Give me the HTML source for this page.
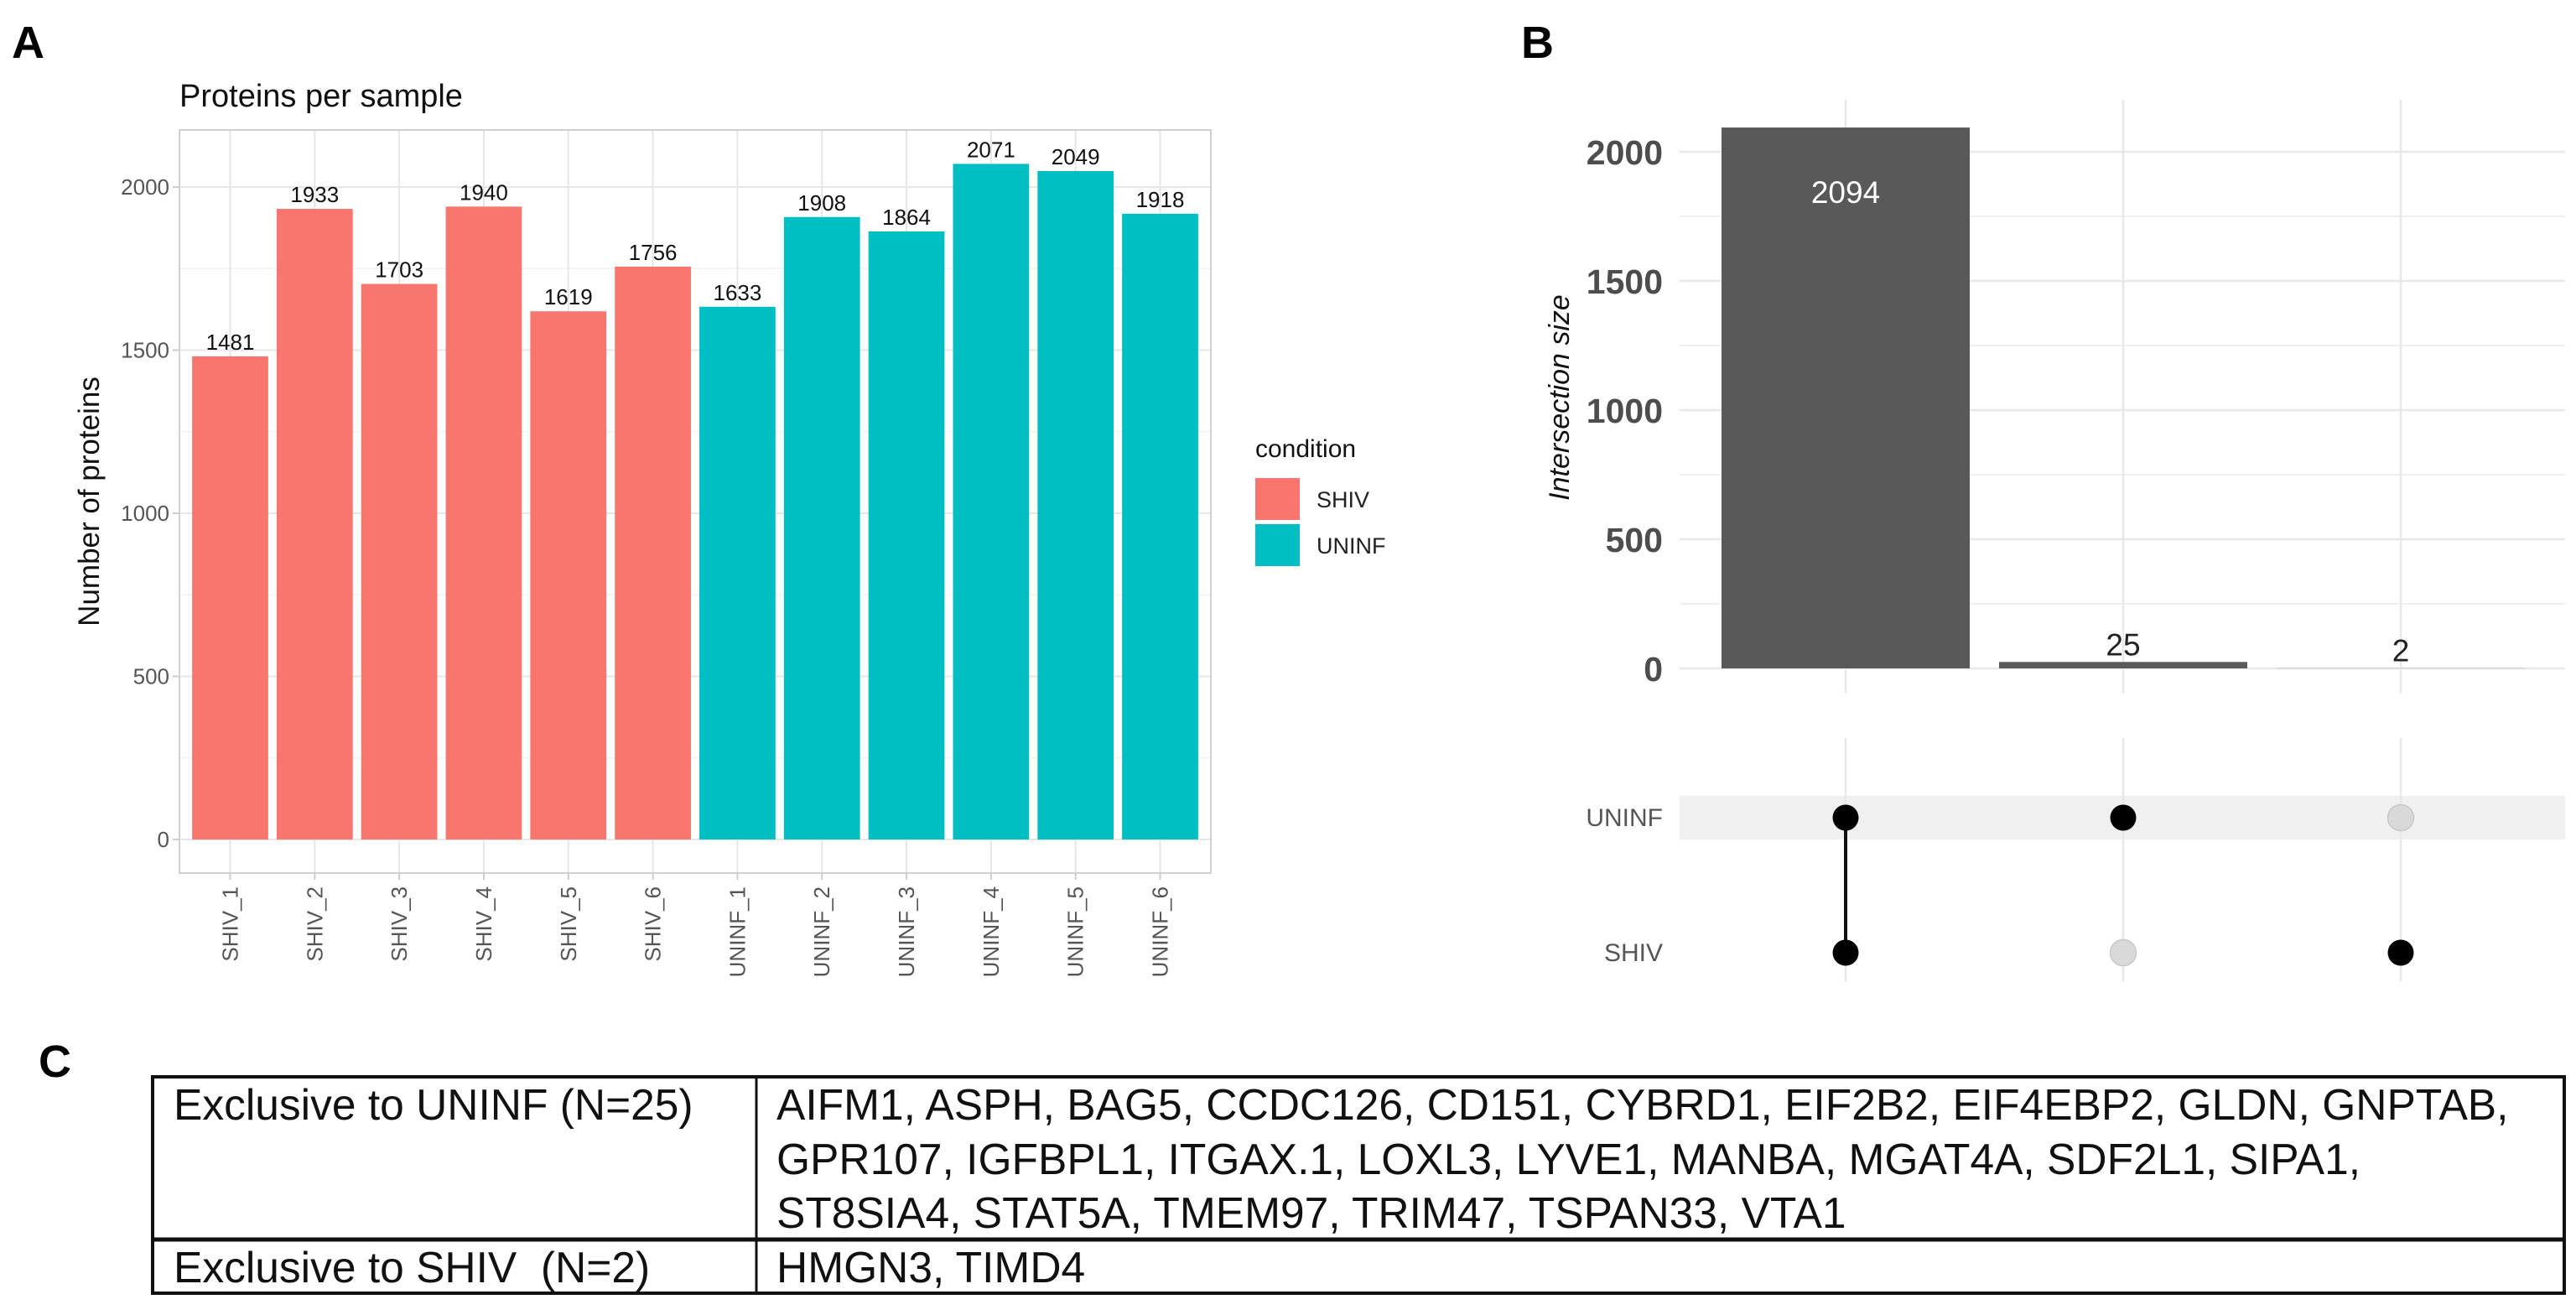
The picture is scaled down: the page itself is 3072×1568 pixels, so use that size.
<!DOCTYPE html>
<html><head><meta charset="utf-8"><style>
html,body{margin:0;padding:0;background:#fff;}
svg{display:block;font-family:"Liberation Sans",Arial,sans-serif;}
</style></head><body>
<svg id="fig" width="3072" height="1568" viewBox="0 0 3072 1568" xmlns="http://www.w3.org/2000/svg">
<rect x="0" y="0" width="3072" height="1568" fill="#fff"/>
<text x="14" y="69" font-size="54" font-weight="bold">A</text>
<text x="1814" y="69" font-size="54" font-weight="bold">B</text>
<text x="46" y="1284" font-size="54" font-weight="bold">C</text>

<g id="chartA">
<text x="214" y="127" font-size="38" fill="#111">Proteins per sample</text>
<text transform="translate(118,598) rotate(-90)" text-anchor="middle" font-size="35" fill="#111">Number of proteins</text>
<g id="a-grid"></g><g id="a-bars"></g><g id="a-labels"></g>
<rect x="214" y="155" width="1230" height="886" fill="none" stroke="#d0d0d0" stroke-width="2"/>
<g>
<text x="1497" y="545" font-size="30" fill="#111">condition</text>
<rect x="1497" y="570" width="53" height="50" fill="#F8766D"/>
<text x="1570" y="605" font-size="27" fill="#222">SHIV</text>
<rect x="1497" y="625" width="53" height="50" fill="#00BFC4"/>
<text x="1570" y="660" font-size="27" fill="#222">UNINF</text>
</g>
</g>

<g id="chartB">
<text transform="translate(1871,474) rotate(-90)" text-anchor="middle" font-size="34" font-style="italic" fill="#111">Intersection size</text>
<g id="b-grid"></g><g id="b-bars"></g><g id="b-matrix"></g>
</g>

<g>
<rect x="182" y="1284" width="2876" height="258" fill="none" stroke="#111" stroke-width="4"/>
<line x1="182" y1="1478" x2="3058" y2="1478" stroke="#111" stroke-width="5"/>
<line x1="902" y1="1284" x2="902" y2="1542" stroke="#111" stroke-width="3"/>
<g font-size="51.5" fill="#111">
<text x="207" y="1335">Exclusive to UNINF (N=25)</text>
<text x="926" y="1335">AIFM1, ASPH, BAG5, CCDC126, CD151, CYBRD1, EIF2B2, EIF4EBP2, GLDN, GNPTAB,</text>
<text x="926" y="1400">GPR107, IGFBPL1, ITGAX.1, LOXL3, LYVE1, MANBA, MGAT4A, SDF2L1, SIPA1,</text>
<text x="926" y="1464">ST8SIA4, STAT5A, TMEM97, TRIM47, TSPAN33, VTA1</text>
<text x="207" y="1529" xml:space="preserve">Exclusive to SHIV  (N=2)</text>
<text x="926" y="1529">HMGN3, TIMD4</text>
</g>
</g>
</svg>
<script>
const samples = ["SHIV_1","SHIV_2","SHIV_3","SHIV_4","SHIV_5","SHIV_6","UNINF_1","UNINF_2","UNINF_3","UNINF_4","UNINF_5","UNINF_6"];
const proteinCounts = [1481,1933,1703,1940,1619,1756,1633,1908,1864,2071,2049,1918];
const conditions = ["SHIV","SHIV","SHIV","SHIV","SHIV","SHIV","UNINF","UNINF","UNINF","UNINF","UNINF","UNINF"];
const yTicksA = [0,500,1000,1500,2000];
const intersections = ["UNINF&SHIV","UNINF","SHIV"];
const intersectionSizes = [2094,25,2];
const yTicksB = [0,500,1000,1500,2000];
const sets = ["UNINF","SHIV"];
const membership = [[1,1],[1,0],[0,1]];

const NS="http://www.w3.org/2000/svg";
function mk(tag, attrs, parent, txt){const e=document.createElementNS(NS,tag);for(const k in attrs)e.setAttribute(k,attrs[k]);if(txt!==undefined)e.textContent=txt;parent.appendChild(e);return e;}

// Panel A
const aL=214,aR=1444,aT=155,aB=1041,y0A=1001,pxPerA=(1001-223)/2000;
const yA=v=>y0A-v*pxPerA;
const step=(aR-aL)/(samples.length+0.2);
const xA=i=>aL+step*(0.6+i);
const gA=document.getElementById('a-grid'),bA=document.getElementById('a-bars'),lA=document.getElementById('a-labels');
for(let i=0;i<yTicksA.length-1;i++){const m=(yTicksA[i]+yTicksA[i+1])/2;
 const l=mk('line',{x1:aL,x2:aR,y1:yA(m),y2:yA(m),stroke:'#f3f3f3','stroke-width':1.5},gA);
 
 }
yTicksA.forEach(t=>{
 const l=mk('line',{x1:aL,x2:aR,y1:yA(t),y2:yA(t),stroke:'#e6e6e6','stroke-width':2},gA);
 
 
 const tk=mk('line',{x1:aL-8,x2:aL,y1:yA(t),y2:yA(t),stroke:'#ccc','stroke-width':2},gA);
 
 
 const tx=mk('text',{x:aL-12,y:yA(t)+9,'text-anchor':'end','font-size':26,fill:'#555'},gA,String(t));
 
 
});
samples.forEach((s,i)=>{
 const cx=xA(i);
 const g=mk('line',{x1:cx,x2:cx,y1:aT,y2:aB,stroke:'#e6e6e6','stroke-width':2},gA);
 
 
 const tk=mk('line',{x1:cx,x2:cx,y1:aB,y2:aB+8,stroke:'#ccc','stroke-width':2},gA);
 
 
 const v=proteinCounts[i],w=step*0.9;
 const r=mk('rect',{x:cx-w/2,y:yA(v),width:w,height:yA(0)-yA(v),fill:conditions[i]==='SHIV'?'#F8766D':'#00BFC4'},bA);
 
 
 const vl=mk('text',{x:cx,y:yA(v)-8,'text-anchor':'middle','font-size':26,fill:'#111'},lA,String(v));
 
 
 const xl=mk('text',{transform:`translate(${cx+9},${aB+16}) rotate(-90)`,'text-anchor':'end','font-size':26,fill:'#555'},lA,s);
 
 
});

// Panel B
const bL=2003,bR=3059,y0B=797,pxPerB=(797-181)/2000;
const yB=v=>y0B-v*pxPerB;
const xB=i=>2201+i*331;
const gB=document.getElementById('b-grid'),barsB=document.getElementById('b-bars'),mB=document.getElementById('b-matrix');
for(let i=0;i<yTicksB.length-1;i++){const m=(yTicksB[i]+yTicksB[i+1])/2;
 const l=mk('line',{x1:bL,x2:bR,y1:yB(m),y2:yB(m),stroke:'#f0f0f0','stroke-width':2},gB);
 
 }
yTicksB.forEach(t=>{
 const l=mk('line',{x1:bL,x2:bR,y1:yB(t),y2:yB(t),stroke:'#e8e8e8','stroke-width':2.5},gB);
 
 
 const tx=mk('text',{x:1983,y:yB(t)+15,'text-anchor':'end','font-size':41,'font-weight':'bold',fill:'#4d4d4d'},gB,String(t));
 
 
});
const rowY=[975,1136];
const band=mk('rect',{x:bL,y:949,width:bR-bL,height:52,fill:'#f0f0f0'},mB);


intersections.forEach((s,i)=>{
 const cx=xB(i);
 const g1=mk('line',{x1:cx,x2:cx,y1:119,y2:827,stroke:'#e8e8e8','stroke-width':2.5},gB);
 
 
 const g2=mk('line',{x1:cx,x2:cx,y1:880,y2:1171,stroke:'#e8e8e8','stroke-width':2.5},mB);
 
 
 const v=intersectionSizes[i];
 const r=mk('rect',{x:cx-148,y:yB(v),width:296,height:Math.max(yB(0)-yB(v),1),fill:v>10?'#595959':'#cfcfcf'},barsB);
 
 
 const inside=(yB(0)-yB(v))>100;
 const lb=mk('text',{x:cx,y:inside?yB(v)+90:yB(v)-8,'text-anchor':'middle','font-size':37,fill:inside?'#fff':'#222'},barsB,String(v));
 
 
});
sets.forEach((s,j)=>{
 const t=mk('text',{x:1983,y:rowY[j]+10,'text-anchor':'end','font-size':30,fill:'#555'},mB,s);
 
 
});
membership.forEach((m,i)=>{
 const cx=xB(i);
 const on=rowY.filter((y,j)=>m[j]);
 if(on.length>1){
  const ln=mk('line',{x1:cx,x2:cx,y1:Math.min(...on),y2:Math.max(...on),stroke:'#111','stroke-width':4},mB);
  
  
 }
 m.forEach((f,j)=>{
  const c=mk('circle',{cx:cx,cy:rowY[j],r:15.5,fill:f?'#000':'#d9d9d9',stroke:f?'none':'#c8c8c8','stroke-width':1.5},mB);
  
  
 });
});
</script>
</body></html>
